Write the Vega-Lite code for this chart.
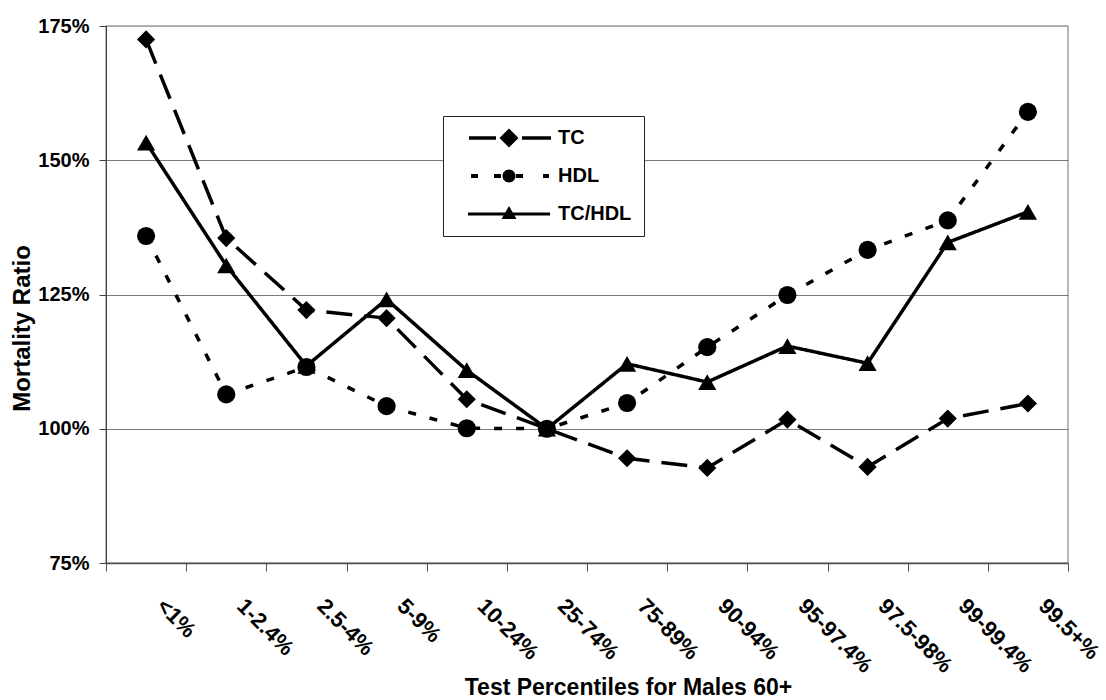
{
  "$schema": "https://vega.github.io/schema/vega-lite/v6.json",
  "width": 962,
  "height": 537,
  "autosize": {"type": "none"},
  "padding": {"left": 106, "top": 26, "right": 38, "bottom": 137},
  "background": "white",
  "config": {
    "font": "Liberation Sans",
    "view": {"stroke": "#a0a0a0", "strokeWidth": 1.5}
  },
  "data": {
    "values": [
      {"pct": "<1%", "series": "TC", "ratio": 1.725},
      {"pct": "1-2.4%", "series": "TC", "ratio": 1.355},
      {"pct": "2.5-4%", "series": "TC", "ratio": 1.221},
      {"pct": "5-9%", "series": "TC", "ratio": 1.206},
      {"pct": "10-24%", "series": "TC", "ratio": 1.055},
      {"pct": "25-74%", "series": "TC", "ratio": 1.0},
      {"pct": "75-89%", "series": "TC", "ratio": 0.945},
      {"pct": "90-94%", "series": "TC", "ratio": 0.927},
      {"pct": "95-97.4%", "series": "TC", "ratio": 1.017},
      {"pct": "97.5-98%", "series": "TC", "ratio": 0.929},
      {"pct": "99-99.4%", "series": "TC", "ratio": 1.019},
      {"pct": "99.5+%", "series": "TC", "ratio": 1.047},
      {"pct": "<1%", "series": "HDL", "ratio": 1.359},
      {"pct": "1-2.4%", "series": "HDL", "ratio": 1.064},
      {"pct": "2.5-4%", "series": "HDL", "ratio": 1.115},
      {"pct": "5-9%", "series": "HDL", "ratio": 1.042},
      {"pct": "10-24%", "series": "HDL", "ratio": 1.001},
      {"pct": "25-74%", "series": "HDL", "ratio": 1.0},
      {"pct": "75-89%", "series": "HDL", "ratio": 1.048},
      {"pct": "90-94%", "series": "HDL", "ratio": 1.152},
      {"pct": "95-97.4%", "series": "HDL", "ratio": 1.249},
      {"pct": "97.5-98%", "series": "HDL", "ratio": 1.333},
      {"pct": "99-99.4%", "series": "HDL", "ratio": 1.388},
      {"pct": "99.5+%", "series": "HDL", "ratio": 1.59},
      {"pct": "<1%", "series": "TC/HDL", "ratio": 1.533},
      {"pct": "1-2.4%", "series": "TC/HDL", "ratio": 1.304},
      {"pct": "2.5-4%", "series": "TC/HDL", "ratio": 1.117},
      {"pct": "5-9%", "series": "TC/HDL", "ratio": 1.241},
      {"pct": "10-24%", "series": "TC/HDL", "ratio": 1.109},
      {"pct": "25-74%", "series": "TC/HDL", "ratio": 1.0},
      {"pct": "75-89%", "series": "TC/HDL", "ratio": 1.121},
      {"pct": "90-94%", "series": "TC/HDL", "ratio": 1.087},
      {"pct": "95-97.4%", "series": "TC/HDL", "ratio": 1.154},
      {"pct": "97.5-98%", "series": "TC/HDL", "ratio": 1.122},
      {"pct": "99-99.4%", "series": "TC/HDL", "ratio": 1.347},
      {"pct": "99.5+%", "series": "TC/HDL", "ratio": 1.404}
    ]
  },
  "encoding": {
    "x": {
      "field": "pct",
      "type": "ordinal",
      "sort": ["<1%", "1-2.4%", "2.5-4%", "5-9%", "10-24%", "25-74%", "75-89%", "90-94%", "95-97.4%", "97.5-98%", "99-99.4%", "99.5+%"],
      "scale": {"type": "band", "paddingInner": 0, "paddingOuter": 0},
      "axis": {
        "title": "Test Percentiles for Males 60+",
        "titleFontSize": 23,
        "titleFontWeight": "bold",
        "titleColor": "black",
        "titleX": 522,
        "titleY": 131,
        "titleBaseline": "alphabetic",
        "titleAlign": "center",
        "labelAngle": 45,
        "labelAlign": "left",
        "labelBaseline": "top",
        "labelFontSize": 22,
        "labelFontWeight": "bold",
        "labelColor": "black",
        "labelPadding": 24,
        "labelOffset": 21,
        "labelOverlap": false,
        "labelLimit": 0,
        "labelBound": false,
        "tickBand": "extent",
        "tickSize": 8,
        "tickColor": "#505050",
        "domainColor": "#505050",
        "domainWidth": 1.5,
        "grid": false
      }
    },
    "y": {
      "field": "ratio",
      "type": "quantitative",
      "scale": {"domain": [0.75, 1.75], "zero": false, "nice": false},
      "axis": {
        "values": [0.75, 1, 1.25, 1.5, 1.75],
        "format": ".0%",
        "title": "Mortality Ratio",
        "titleFontSize": 24,
        "titleFontWeight": "bold",
        "titleColor": "black",
        "titleX": -84,
        "titleY": 302,
        "titleAngle": -90,
        "titleBaseline": "middle",
        "titleAlign": "center",
        "labelFontSize": 20,
        "labelFontWeight": "bold",
        "labelColor": "black",
        "labelPadding": 10,
        "tickSize": 7,
        "tickColor": "#404040",
        "domainColor": "#404040",
        "gridColor": {"condition": {"test": "datum.value === 1.75", "value": "#a8a8a8"}, "value": "#7a7a7a"},
        "gridWidth": 1.2
      }
    }
  },
  "resolve": {"scale": {"shape": "independent"}, "legend": {"shape": "independent"}},
  "layer": [
    {
      "mark": {"type": "line", "color": "black", "strokeWidth": 3.5},
      "encoding": {
        "strokeDash": {
          "field": "series",
          "type": "nominal",
          "scale": {"domain": ["HDL", "TC", "TC/HDL"], "range": [[8, 14], [26, 12], [1, 0]]},
          "legend": null
        }
      }
    },
    {
      "mark": {"type": "point", "filled": true, "color": "black", "opacity": 1, "size": 330},
      "encoding": {
        "shape": {
          "field": "series",
          "type": "nominal",
          "scale": {"domain": ["TC/HDL", "TC", "HDL"], "range": ["triangle-up", "diamond", "circle"]},
          "legend": null
        }
      }
    },
    {
      "transform": [{"filter": "datum.series === 'legend only'"}],
      "mark": {"type": "point", "filled": false, "color": "black", "fill": "black", "stroke": "black", "strokeWidth": 3.5, "opacity": 1},
      "encoding": {
        "shape": {
          "field": "series",
          "type": "nominal",
          "scale": {
            "domain": ["TC", "HDL", "TC/HDL"],
            "range": [
              "M-4.0,-0.17H-1.3V0.17H-4.0Z M1.3,-0.17H4.2V0.17H1.3Z M0,-0.95L0.95,0L0,0.95L-0.95,0Z",
              "M-3.8,-0.2H-3.1V0.2H-3.8Z M-1.5,-0.2H-0.8V0.2H-1.5Z M0.7,-0.2H1.4V0.2H0.7Z M3.4,-0.2H4.0V0.2H3.4Z M-0.65,0A0.65,0.65,0,1,0,0.65,0A0.65,0.65,0,1,0,-0.65,0Z",
              "M-4.1,-0.15H4.1V0.15H-4.1Z M0,-0.8L0.75,0.5L-0.75,0.5Z"
            ]
          },
          "legend": {
            "orient": "none",
            "legendX": 337,
            "legendY": 90,
            "title": null,
            "direction": "vertical",
            "fillColor": "white",
            "strokeColor": "#222222",
            "padding": 12,
            "labelFont": "Liberation Sans",
            "labelFontSize": 20,
            "labelFontWeight": "bold",
            "labelColor": "black",
            "symbolSize": 400,
            "symbolFillColor": "black",
            "symbolStrokeColor": "black",
            "symbolStrokeWidth": 0,
            "symbolOpacity": 1,
            "rowPadding": 18,
            "labelOffset": 39,
            "symbolOffset": 44
          }
        }
      }
    }
  ]
}
